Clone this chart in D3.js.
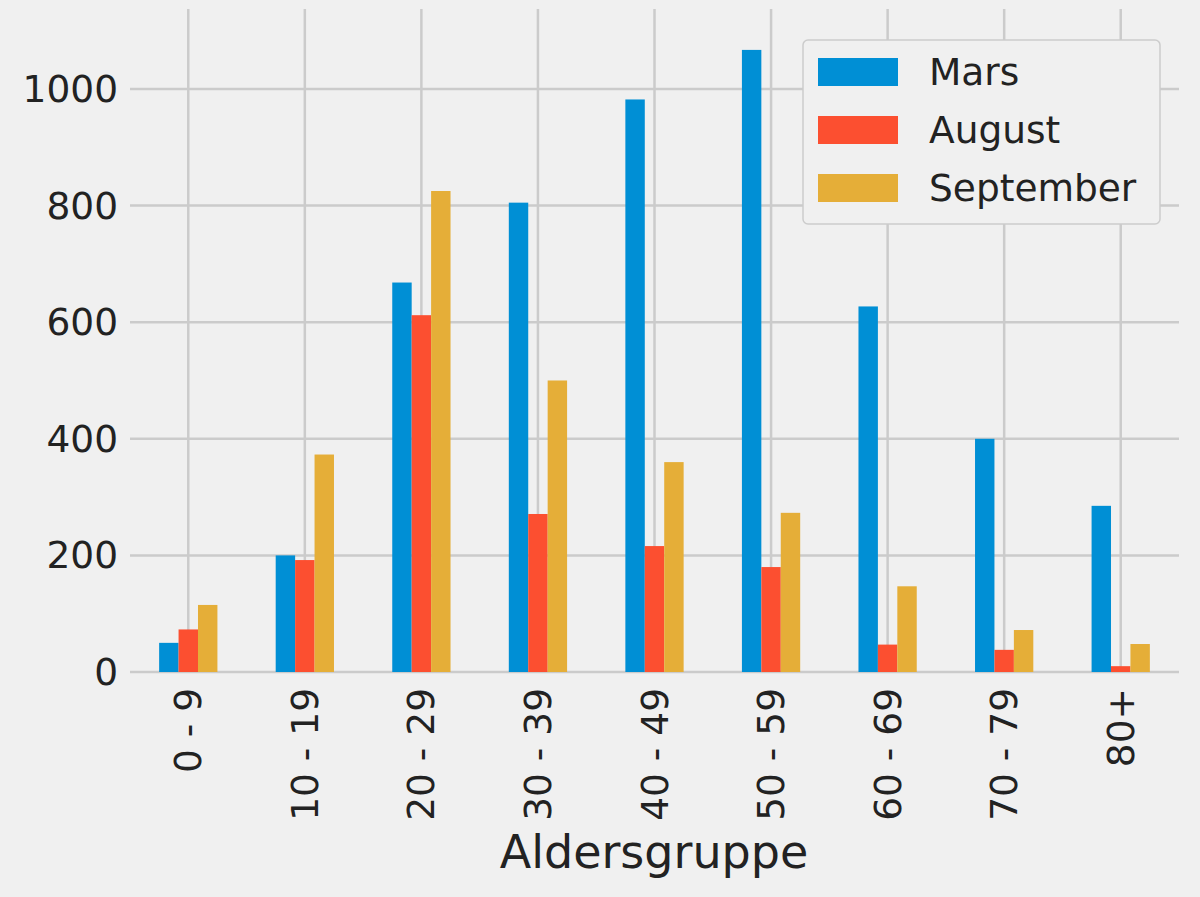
<!DOCTYPE html>
<html><head><meta charset="utf-8">
<script src="https://cdn.jsdelivr.net/npm/d3@7"></script>
<style>body{margin:0;background:#f0f0f0;}svg{display:block;font-family:"DejaVu Sans",sans-serif;}</style>
</head><body><svg id="c" width="1200" height="897"></svg>
<script>
const categories=["0 - 9","10 - 19","20 - 29","30 - 39","40 - 49","50 - 59","60 - 69","70 - 79","80+"];
const seriesNames=["Mars","August","September"];
const mars=[50,200,668,805,982,1067,627,400,285];
const august=[73,192,612,271,216,180,47,38,10];
const september=[115,373,825,500,360,273,147,72,48];
const yTicks=[0,200,400,600,800,1000];
const colors=["#008fd5","#fc4f30","#e5ae38"];
const series=[mars,august,september];

const svg=d3.select("#c");
svg.append("rect").attr("width",1200).attr("height",897).attr("fill","#f0f0f0");
const L=130,R=1179,T=19,B=672;
const x=d3.scaleBand().domain(categories).range([L,R]).paddingInner(0).paddingOuter(0);
const y=d3.scaleLinear().domain([0,1120]).range([B,T]);
const g=svg.append("g");
g.selectAll(".hg").data(yTicks).join("line").attr("x1",L).attr("x2",R)
 .attr("y1",d=>y(d)).attr("y2",d=>y(d)).attr("stroke","#cbcbcb").attr("stroke-width",2.5);
g.selectAll(".vg").data(categories).join("line").attr("x1",d=>x(d)+x.bandwidth()/2).attr("x2",d=>x(d)+x.bandwidth()/2)
 .attr("y1",T-10).attr("y2",B).attr("stroke","#cbcbcb").attr("stroke-width",2.5);
const bw=x.bandwidth()/6;
series.forEach((s,i)=>{
  g.selectAll(".b"+i).data(s).join("rect")
   .attr("x",(d,j)=>x(categories[j])+x.bandwidth()/2+(i-1.5)*bw)
   .attr("width",bw).attr("y",d=>y(d)).attr("height",d=>B-y(d)).attr("fill",colors[i]);
});
const F="DejaVu Sans";
g.selectAll(".yl").data(yTicks).join("text").attr("x",L-12).attr("y",d=>y(d)+13)
 .attr("text-anchor","end").attr("font-family",F).attr("font-size",37.5).attr("fill","#222").text(d=>d);
g.selectAll(".xl").data(categories).join("text")
 .attr("transform",d=>`translate(${x(d)+x.bandwidth()/2+13},${B+16}) rotate(-90)`)
 .attr("text-anchor","end").attr("font-family",F).attr("font-size",37.5).attr("fill","#222").text(d=>d);
svg.append("text").attr("x",654).attr("y",868).attr("text-anchor","middle").attr("font-family",F).attr("font-size",46).attr("fill","#222").text("Aldersgruppe");
const lg=svg.append("g");
lg.append("rect").attr("x",803).attr("y",40).attr("width",357).attr("height",184).attr("rx",5)
 .attr("fill","#f0f0f0").attr("stroke","#cccccc").attr("stroke-width",1.5);
seriesNames.forEach((n,i)=>{
  lg.append("rect").attr("x",818).attr("y",58+i*58).attr("width",80).attr("height",28).attr("fill",colors[i]);
  lg.append("text").attr("x",929).attr("y",85+i*58).attr("font-family",F).attr("font-size",37.5).attr("fill","#222").text(n);
});
</script></body></html>
